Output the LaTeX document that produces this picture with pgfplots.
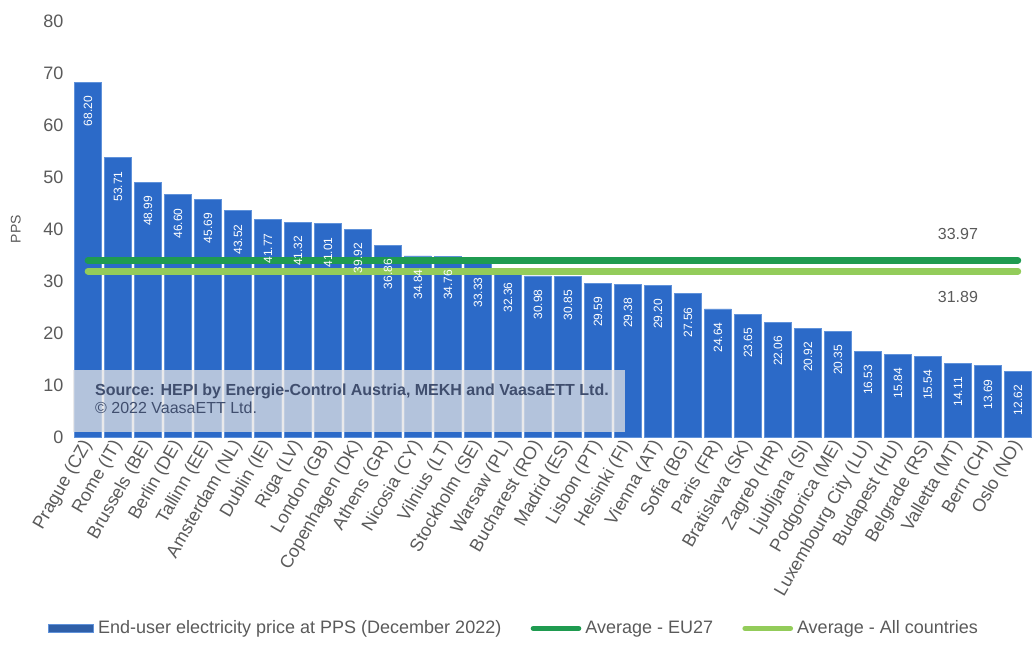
\documentclass[border=0pt]{standalone}
\usepackage{pgfplots}
\pgfplotsset{compat=1.18}
\usepackage{fontspec}
\setmainfont{Liberation Sans}

\definecolor{barblue}{RGB}{44,106,200}
\definecolor{baredge}{RGB}{96,146,218}
\definecolor{eugreen}{RGB}{31,155,80}
\definecolor{allgreen}{RGB}{147,204,90}
\definecolor{txtgray}{RGB}{90,90,90}
\definecolor{srcblue}{RGB}{64,78,110}

\begin{document}
\begin{tikzpicture}
\begin{axis}[
    scale only axis,
    width=723pt, height=312pt,
    xmin=-0.667, xmax=31.47,
    ymin=0, ymax=80,
    ytick={0,10,...,80},
    xtick=data,
    xticklabels={Prague (CZ),Rome (IT),Brussels (BE),Berlin (DE),Tallinn (EE),Amsterdam (NL),Dublin (IE),Riga (LV),London (GB),Copenhagen (DK),Athens (GR),Nicosia (CY),Vilnius (LT),Stockholm (SE),Warsaw (PL),Bucharest (RO),Madrid (ES),Lisbon (PT),Helsinki (FI),Vienna (AT),Sofia (BG),Paris (FR),Bratislava (SK),Zagreb (HR),Ljubljana (SI),Podgorica (ME),Luxembourg City (LU),Budapest (HU),Belgrade (RS),Valletta (MT),Bern (CH),Oslo (NO)},
    x tick label style={rotate=60, anchor=east, font=\fontsize{13.5}{15}\selectfont, text=txtgray, yshift=-2pt},
    y tick label style={font=\fontsize{13.5}{15}\selectfont, text=txtgray},
    /pgf/number format/assume math mode=true,
    ylabel={PPS},
    ylabel style={font=\fontsize{10.5}{12}\selectfont, text=txtgray, yshift=10pt},
    axis line style={draw=none},
    major tick length=0pt,
    legend columns=3,
    legend style={at={(0.463,-0.46)}, anchor=center, draw=none, fill=none,
        font=\fontsize{13.5}{15}\selectfont, text=txtgray, inner xsep=0pt,
        /tikz/every even column/.append style={column sep=20pt},
        /tikz/every odd column/.append style={column sep=1pt}},
]
\addplot[ybar, bar width=20.25pt, fill=barblue, draw=baredge, line width=0.5pt,
    nodes near coords={\pgfmathprintnumber[fixed,fixed zerofill,precision=2]{\pgfplotspointmeta}},
    every node near coord/.append style={rotate=90, anchor=east, text=white,
        font=\fontsize{9}{10}\selectfont, inner xsep=10pt},
    legend image code/.code={\fill[fill={rgb,255:red,47;green,95;blue,168}] (0pt,-3pt) rectangle (34pt,3pt);}]
coordinates {
(0,68.20) (1,53.71) (2,48.99) (3,46.60) (4,45.69) (5,43.52) (6,41.77) (7,41.32)
(8,41.01) (9,39.92) (10,36.86) (11,34.84) (12,34.76) (13,33.33) (14,32.36) (15,30.98)
(16,30.85) (17,29.59) (18,29.38) (19,29.20) (20,27.56) (21,24.64) (22,23.65) (23,22.06)
(24,20.92) (25,20.35) (26,16.53) (27,15.84) (28,15.54) (29,14.11) (30,13.69) (31,12.62)
};
\addlegendentry{End-user electricity price at PPS (December 2022)}

\addplot[eugreen, line width=5pt, line cap=round,
    legend image code/.code={\draw[eugreen, line width=4pt, line cap=round] (2pt,0pt) -- (36pt,0pt);}]
coordinates {(0,33.97) (31,33.97)};
\addlegendentry{Average - EU27}

\addplot[allgreen, line width=5pt, line cap=round,
    legend image code/.code={\draw[allgreen, line width=4pt, line cap=round] (2pt,0pt) -- (36pt,0pt);}]
coordinates {(0,31.89) (31,31.89)};
\addlegendentry{Average - All countries}

\node[text=txtgray, font=\fontsize{12}{14}\selectfont] at (axis cs:29,38.97) {33.97};
\node[text=txtgray, font=\fontsize{12}{14}\selectfont] at (axis cs:29,26.89) {31.89};

\fill[fill={rgb,255:red,225;green,225;blue,228}, opacity=0.75] (axis cs:-0.5,1) rectangle (axis cs:17.9,12.9);
\node[anchor=north west, align=left, text=srcblue, font=\fontsize{12}{13.5}\selectfont, inner sep=0pt]
    at (axis cs:0.23,10.3) {\textbf{Source: HEPI by Energie-Control Austria, MEKH and VaasaETT Ltd.}\\© 2022 VaasaETT Ltd.};
\end{axis}
\pgfresetboundingbox
\useasboundingbox (-51pt,-160.5pt) rectangle (723pt,327.75pt);
\end{tikzpicture}
\end{document}
